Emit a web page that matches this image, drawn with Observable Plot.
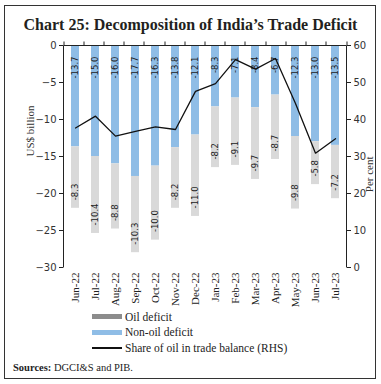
<!DOCTYPE html>
<html><head><meta charset="utf-8">
<script src="https://cdn.jsdelivr.net/npm/d3@7"></script>
<script src="https://cdn.jsdelivr.net/npm/@observablehq/plot@0.6"></script>
<style>
body{margin:0;background:#fff}
#wrap{position:relative;width:381px;height:384px;overflow:hidden;background:#fff}
#border{position:absolute;left:4px;top:5px;width:370px;height:372px;border:1.5px solid #333}
#title{position:absolute;top:15px;left:0;width:381px;text-align:center;font:bold 16px/20px "Liberation Serif";color:#231f20}
.chart{position:absolute;left:0;top:35px}
#legend{position:absolute;left:92px;top:309px;font:11.5px "Liberation Serif";color:#222}
.row{display:flex;align-items:center;height:15.5px;white-space:nowrap}
.sw{width:30px;height:5px;margin-right:3px}
.ln{width:30px;height:1.5px;background:#111;margin-right:3px}
#src{position:absolute;left:13px;top:361px;font:10.5px/13px "Liberation Serif";color:#222}
</style></head>
<body>
<div id="wrap">
  <div id="border"></div>
  <div id="title">Chart 25: Decomposition of India’s Trade Deficit</div>
  <div id="c1" class="chart"></div>
  <div id="c2" class="chart"></div>
  <div id="legend"></div>
  <div id="src"><b>Sources:</b> DGCI&amp;S and PIB.</div>
</div>
<script>
const months = ["Jun-22","Jul-22","Aug-22","Sep-22","Oct-22","Nov-22","Dec-22","Jan-23","Feb-23","Mar-23","Apr-23","May-23","Jun-23","Jul-23"];
const nonOil = [-13.7,-15.0,-16.0,-17.7,-16.3,-13.8,-12.1,-8.3,-7.1,-8.4,-6.7,-12.3,-13.0,-13.5];
const oil = [-8.3,-10.4,-8.8,-10.3,-10.0,-8.2,-11.0,-8.2,-9.1,-9.7,-8.7,-9.8,-5.8,-7.2];
const oilShare = [37.7,40.9,35.5,36.8,38.0,37.3,47.6,49.7,56.2,53.6,56.5,44.3,30.9,34.8];
const leftTicks = [-30,-25,-20,-15,-10,-5,0];
const rightTicks = [0,10,20,30,40,50,60];
const seriesNames = ["Non-oil deficit","Oil deficit"];
const barColors = ["#8fbde6","#d9d9d9"];
const legendItems = [
  {label:"Oil deficit", kind:"bar", color:"#8c8c8c"},
  {label:"Non-oil deficit", kind:"bar", color:"#8fbde6"},
  {label:"Share of oil in trade balance (RHS)", kind:"line", color:"#111"}
];

const rows = [
  ...months.map((m,i)=>({month:m, type:seriesNames[0], value:nonOil[i]})),
  ...months.map((m,i)=>({month:m, type:seriesNames[1], value:oil[i]}))
];

const W=381, H=275, mL=63, mR=35, mT=10, mB=43;
const xOpts = {domain:months, paddingInner:0.62, paddingOuter:0.31};

function frameMark(index, scales, values, dims) {
  const g = d3.create("svg:g").attr("stroke","#222").attr("stroke-width",1).attr("fill","none");
  const l = dims.marginLeft + 0.5, r = dims.width - dims.marginRight + 0.5;
  const t = dims.marginTop + 0.5, b = dims.height - dims.marginBottom + 0.5;
  g.append("line").attr("x1",l).attr("x2",l).attr("y1",t).attr("y2",b);
  g.append("line").attr("x1",r).attr("x2",r).attr("y1",t).attr("y2",b);
  g.append("line").attr("x1",l).attr("x2",r).attr("y1",t).attr("y2",t);
  const n = months.length, step = (r-l)/n;
  for (let i=0;i<=n;i++){
    const x = Math.round(l + i*step);
    g.append("line").attr("x1",x).attr("x2",x).attr("y1",t-4).attr("y2",t);
  }
  return g.node();
}

const main = Plot.plot({
  width:W, height:H, marginLeft:mL, marginRight:mR, marginTop:mT, marginBottom:mB,
  style:{background:"transparent", color:"#222", fontFamily:"DejaVu Sans"},
  x:xOpts,
  y:{domain:[-30,0]},
  color:{domain:seriesNames, range:barColors},
  marks:[
    Plot.barY(rows,{x:"month", y:"value", fill:"type", order:seriesNames}),
    Plot.text(months,{x:d=>d, y:0, text:(d,i)=>nonOil[i].toFixed(1), rotate:-90, textAnchor:"end", lineAnchor:"middle", dy:11, fontSize:8.5, fill:"#222"}),
    Plot.text(months,{x:d=>d, y:(d,i)=>nonOil[i]+oil[i], text:(d,i)=>oil[i].toFixed(1), rotate:-90, textAnchor:"start", lineAnchor:"middle", dy:-8, fontSize:8.5, fill:"#222"}),
    Plot.axisY({anchor:"left", ticks:leftTicks, tickSize:4, tickPadding:3, fontSize:10, fontFamily:"DejaVu Sans", fill:"#333", label:null}),
    Plot.axisX({anchor:"bottom", tickSize:0, tickRotate:-90, tickPadding:5, fontSize:11, fontFamily:"Liberation Serif", fill:"#222", label:null}),
    Plot.text(["US$ billion"],{frameAnchor:"left", dx:-33, rotate:-90, fontSize:11, fontFamily:"Liberation Serif", fill:"#333"}),
    frameMark
  ]
});
document.getElementById("c1").appendChild(main);

const overlay = Plot.plot({
  width:W, height:H, marginLeft:mL, marginRight:mR, marginTop:mT, marginBottom:mB,
  style:{background:"transparent", color:"#222", fontFamily:"DejaVu Sans"},
  x:{...xOpts, axis:null},
  y:{domain:[0,60]},
  marks:[
    Plot.line(months,{x:d=>d, y:(d,i)=>oilShare[i], stroke:"#111", strokeWidth:1.3}),
    Plot.axisY({anchor:"right", ticks:rightTicks, tickSize:4, tickPadding:3, fontSize:10, fontFamily:"DejaVu Sans", fill:"#333", label:null}),
    Plot.text(["Per cent"],{frameAnchor:"right", dx:23, rotate:-90, fontSize:11, fontFamily:"Liberation Serif", fill:"#333"})
  ]
});
document.getElementById("c2").appendChild(overlay);

const leg = document.getElementById("legend");
for (const it of legendItems) {
  const row = document.createElement("div"); row.className = "row";
  const sw = document.createElement("div");
  sw.className = it.kind === "bar" ? "sw" : "ln";
  sw.style.background = it.color;
  row.appendChild(sw);
  const sp = document.createElement("span"); sp.textContent = it.label;
  row.appendChild(sp);
  leg.appendChild(row);
}
</script>
</body></html>
